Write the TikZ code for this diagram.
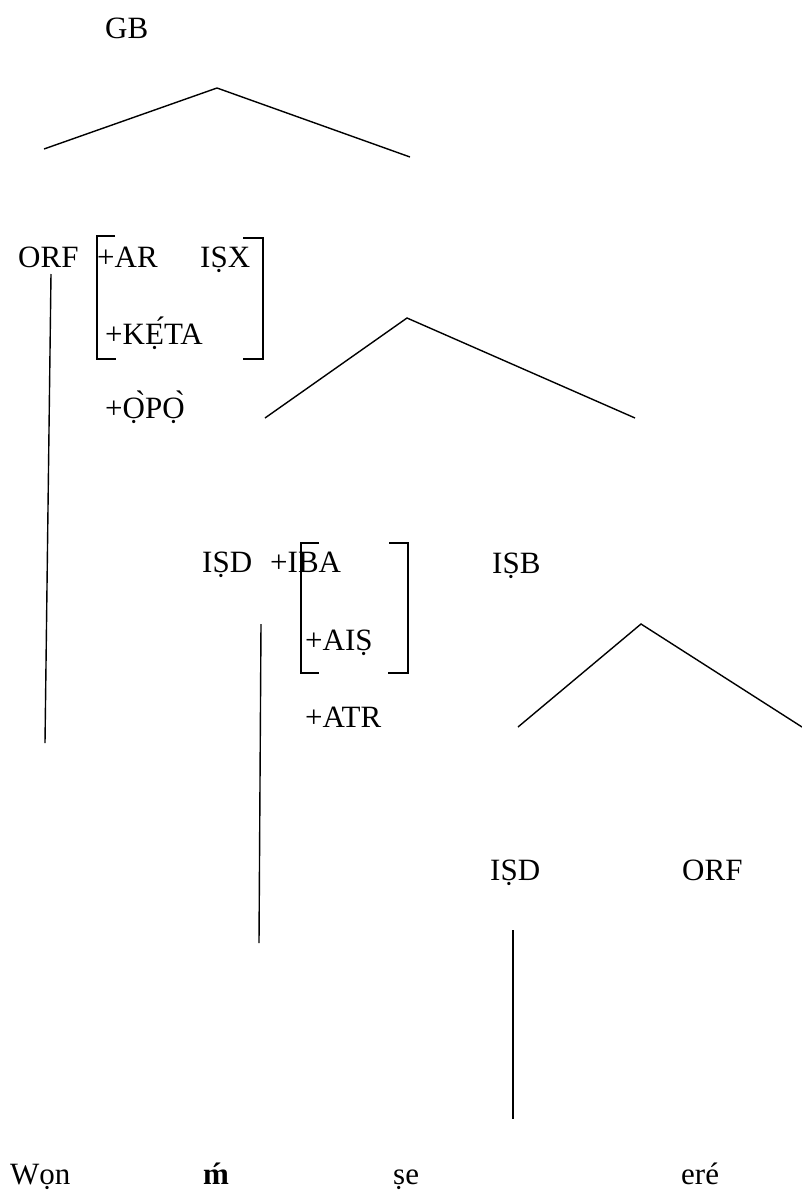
\documentclass[tikz,border=0pt]{standalone}
\usepackage{fontspec}
\setmainfont{Liberation Serif}

\begin{document}
\begin{tikzpicture}[x=1pt, y=-1pt,
    every node/.style={inner sep=0pt, anchor=base west, font=\fontsize{31}{37}\selectfont},
    branch/.style={line width=1.4pt},
    brack/.style={line width=2pt}]
    \useasboundingbox (0,0) rectangle (802,1191);

    % Nodes
    \node (gb) at (105,38) {GB};
    \node (orfa) at (18,267) {ORF};
    \node (ar) at (97,267) {+AR};
    \node (isx) at (200,267) {IṢX};
    \node (keta) at (105,344) {+KẸ́TA};
    \node (opo) at (105,418) {+Ọ̀PỌ̀};
    \node (isda) at (202,572) {IṢD};
    \node (iba) at (270,572) {+IBA};
    \node (isb) at (492,573) {IṢB};
    \node (ais) at (305,650) {+AIṢ};
    \node (atr) at (305,727) {+ATR};
    \node (isdb) at (490,880) {IṢD};
    \node (orfb) at (682,880) {ORF};
    \node (won) at (10,1184) {Wọn};
    \node (mm) at (203,1184) {\textbf{ḿ}};
    \node (se) at (393,1184) {ṣe};
    \node (ere) at (681,1184) {eré};

    % Branch points
    \coordinate (gbtop) at (217,88);
    \coordinate (gbl) at (44,149);
    \coordinate (gbr) at (410,157);
    \coordinate (orftop) at (51,274);
    \coordinate (orfbot) at (45,743);
    \coordinate (isxtop) at (407,318);
    \coordinate (isxl) at (265,418);
    \coordinate (isxr) at (635,418);
    \coordinate (isdtop) at (261,624);
    \coordinate (isdbot) at (259,943);
    \coordinate (isbtop) at (641,624);
    \coordinate (isbl) at (518,727);
    \coordinate (isbr) at (802,727);
    \coordinate (sdtop) at (513,930);
    \coordinate (sdbot) at (513,1119);

    % Branches
    \draw[branch] (gbl) -- (gbtop) -- (gbr);
    \draw[branch] (orftop) -- (orfbot);
    \draw[branch] (isxl) -- (isxtop) -- (isxr);
    \draw[branch] (isdtop) -- (isdbot);
    \draw[branch] (isbl) -- (isbtop) -- (isbr);
    \draw[branch] (sdtop) -- (sdbot);

    % Brackets
    \draw[brack] (115,236) -- (97,236) -- (97,359) -- (116,359);
    \draw[brack] (243,238) -- (263,238) -- (263,359) -- (243,359);
    \draw[brack] (319,543) -- (301,543) -- (301,673) -- (319,673);
    \draw[brack] (389,543) -- (408,543) -- (408,673) -- (388,673);
\end{tikzpicture}
\end{document}
